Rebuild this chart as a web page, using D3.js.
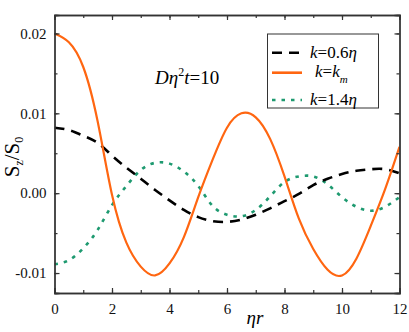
<!DOCTYPE html>
<html><head><meta charset="utf-8">
<script src="https://cdn.jsdelivr.net/npm/d3@7"></script>
<style>body{margin:0;background:#fff}svg{display:block}svg text{font-family:"Liberation Serif","DejaVu Serif","Times New Roman",serif}</style>
</head><body><svg id="c" width="409" height="332"></svg>
<script>
const xs = [0,0.5,1,1.5,2,2.5,3,3.5,4,4.5,5,5.5,6,6.5,7,7.5,8,8.5,9,9.5,10,10.5,11,11.5,12];
const k06 = [0.0082,0.0079,0.0072,0.0063,0.0047,0.0032,0.0018,0.0004,-0.0009,-0.0021,-0.0030,-0.0035,-0.0036,-0.0033,-0.0027,-0.0019,-0.0010,-0.0001,0.0010,0.0018,0.0024,0.0028,0.0030,0.0030,0.0025];
const km  = [0.0200,0.0189,0.0158,0.0090,-0.0002,-0.0062,-0.0092,-0.0103,-0.0088,-0.0055,-0.0005,0.0042,0.0082,0.0100,0.0095,0.0068,0.0021,-0.0032,-0.0070,-0.0096,-0.0103,-0.0082,-0.0041,0.0005,0.0058];
const k14 = [-0.0089,-0.0084,-0.0069,-0.0046,-0.0015,0.0009,0.0029,0.0038,0.0037,0.0027,0.0009,-0.0016,-0.0027,-0.0029,-0.0021,-0.0004,0.0014,0.0021,0.0021,0.0011,-0.0005,-0.0017,-0.0022,-0.0017,-0.0005];
const xTicks = [0,2,4,6,8,10,12];
const yTicks = [-0.01,0,0.01,0.02];
const yLabels = ["-0.01","0.00","0.01","0.02"];

const svg = d3.select("#c");
const L=54.5,R=399.5,T=15,B=293;
const x = d3.scaleLinear().domain([0,12]).range([L,R]);
const y = d3.scaleLinear().domain([-0.0125,0.02231]).range([B,T]);

svg.append("clipPath").attr("id","cp").append("rect").attr("x",L).attr("y",T).attr("width",R-L).attr("height",B-T);

const line = d3.line().x((d,i)=>x(xs[i])).y(d=>y(d)).curve(d3.curveNatural);
const g = svg.append("g").attr("clip-path","url(#cp)");
g.append("path").attr("d",line(k14)).attr("fill","none").attr("stroke","#1e9a70").attr("stroke-width",2.6).attr("stroke-dasharray","3.5,6");
g.append("path").attr("d",line(k06)).attr("fill","none").attr("stroke","#000").attr("stroke-width",2.6).attr("stroke-dasharray","10,7");
g.append("path").attr("d",line(km)).attr("fill","none").attr("stroke","#ff6611").attr("stroke-width",2.2);

// axes
const minorX = d3.range(0,13,1), minorY = d3.range(-0.01,0.0201,0.005);
svg.append("g").attr("transform",`translate(0,${B})`).call(d3.axisBottom(x).tickValues(minorX).tickSize(-3).tickFormat(""));
svg.append("g").attr("transform",`translate(0,${B})`).call(d3.axisBottom(x).tickValues(xTicks).tickSize(-5).tickPadding(10).tickFormat(d3.format("d")));
svg.append("g").attr("transform",`translate(0,${T})`).call(d3.axisTop(x).tickValues(minorX).tickSize(-3).tickFormat(""));
svg.append("g").attr("transform",`translate(0,${T})`).call(d3.axisTop(x).tickValues(xTicks).tickSize(-5).tickFormat(""));
svg.append("g").attr("transform",`translate(${L},0)`).call(d3.axisLeft(y).tickValues(minorY).tickSize(-3).tickFormat(""));
svg.append("g").attr("transform",`translate(${L},0)`).call(d3.axisLeft(y).tickValues(yTicks).tickSize(-5).tickPadding(8).tickFormat((d,i)=>yLabels[i]));
svg.append("g").attr("transform",`translate(${R},0)`).call(d3.axisRight(y).tickValues(minorY).tickSize(-3).tickFormat(""));
svg.append("g").attr("transform",`translate(${R},0)`).call(d3.axisRight(y).tickValues(yTicks).tickSize(-5).tickFormat(""));
svg.selectAll("g").attr("font-family",null);
svg.selectAll(".domain").attr("stroke","#333").attr("stroke-width",1.3);
svg.selectAll(".tick line").attr("stroke","#333").attr("stroke-width",1.2);
svg.selectAll(".tick text").attr("font-size",15).attr("fill","#111");

// axis titles
svg.append("text").attr("x",255).attr("y",324).attr("text-anchor","middle").attr("font-style","italic").attr("font-size",19).text("ηr");
const yt = svg.append("text").attr("transform","translate(19,157) rotate(-90)").attr("text-anchor","middle").attr("font-size",21);
yt.append("tspan").text("S");
yt.append("tspan").attr("font-size",12).attr("dy",4).text("z");
yt.append("tspan").attr("dy",-4).text("/S");
yt.append("tspan").attr("font-size",12).attr("dy",4).text("0");

// annotation
const an = svg.append("text").attr("x",155).attr("y",84).attr("font-size",19);
an.append("tspan").attr("font-style","italic").text("Dη");
an.append("tspan").attr("font-size",12).attr("dy",-8).text("2");
an.append("tspan").attr("font-style","italic").attr("dy",8).text("t");
an.append("tspan").text("=10");

// legend
svg.append("rect").attr("x",267.5).attr("y",34).attr("width",111).attr("height",74).attr("fill","#fff").attr("stroke","#333").attr("stroke-width",1);
const leg = [
 {c:"#000",da:"10,7",y:52.7,ty:58,tx:310,lab:["k","=0.6η"]},
 {c:"#ff6611",da:null,y:72.7,ty:77,tx:315,lab:["k","=k","m"]},
 {c:"#1e9a70",da:"3.5,6",y:100,ty:105,tx:310,lab:["k","=1.4η"]}
];
leg.forEach(e=>{
  const p = svg.append("line").attr("x1",272).attr("x2",302).attr("y1",e.y).attr("y2",e.y).attr("stroke",e.c).attr("stroke-width",2.6);
  if(e.da) p.attr("stroke-dasharray",e.da);
  const t = svg.append("text").attr("x",e.tx).attr("y",e.ty).attr("font-size",17);
  t.append("tspan").attr("font-style","italic").text(e.lab[0]);
  if(e.lab.length===3){
    t.append("tspan").text("=");
    t.append("tspan").attr("font-style","italic").text("k");
    t.append("tspan").attr("font-style","italic").attr("font-size",11).attr("dy",6).text(e.lab[2]);
  } else {
    const s = e.lab[1];
    t.append("tspan").text(s.slice(0,-1));
    t.append("tspan").attr("font-style","italic").text(s.slice(-1));
  }
});
</script></body></html>
